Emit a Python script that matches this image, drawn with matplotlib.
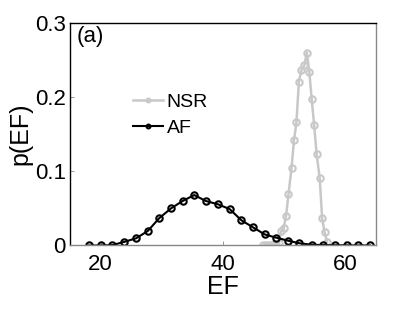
import matplotlib
matplotlib.use("Agg")
import matplotlib.pyplot as plt

plt.rcParams['font.family'] = ['Liberation Sans', 'DejaVu Sans']

# AF series
af_x = [18.1, 20.0, 21.9, 23.8, 25.8, 27.7, 29.6, 31.5, 33.4, 35.3, 37.2, 39.2,
        41.1, 43.0, 44.9, 46.8, 48.7, 50.6, 52.5, 54.5, 56.4, 58.3, 60.2, 62.1, 64.0]
af_y = [0.0, 0.0, 0.0005, 0.0047, 0.0097, 0.0195, 0.037, 0.050, 0.060, 0.068, 0.060, 0.0555,
        0.049, 0.034, 0.0245, 0.015, 0.0105, 0.0065, 0.003, 0.001, 0.0005, 0.0003, 0.0002, 0.0001, 0.0]

# NSR series
nsr_x = [46.6, 47.0, 47.4, 47.9, 48.3, 48.7, 49.1, 49.5, 49.9, 50.3, 50.7, 51.2, 51.6,
         52.0, 52.4, 52.8, 53.3, 53.7, 54.1, 54.5, 54.9, 55.3, 55.8, 56.2, 56.6, 57.0]
nsr_y = [0.0, 0.0005, 0.001, 0.001, 0.0015, 0.002, 0.004, 0.019, 0.023, 0.040, 0.069, 0.105, 0.142,
         0.166, 0.221, 0.236, 0.243, 0.260, 0.234, 0.197, 0.162, 0.123, 0.091, 0.037, 0.018, 0.005]

x_ticks = [20, 40, 60]
y_ticks = [0, 0.1, 0.2, 0.3]
y_ticklabels = ['0', '0.1', '0.2', '0.3']

fig = plt.figure(figsize=(4.15, 3.13), dpi=100)
ax = fig.add_axes([0.1687, 0.2157, 0.906 - 0.1687, 0.9265 - 0.2157])

gray = '#c8c8c8'
ax.plot(nsr_x, nsr_y, color=gray, lw=1.8, marker='o', ms=4.6, mew=1.5,
        mfc='none', mec=gray, label='NSR')
ax.plot(af_x, af_y, color='black', lw=1.5, marker='o', ms=4.6, mew=1.5,
        mfc='none', mec='black', label='AF')

ax.set_xlim(15, 65)
ax.set_ylim(0, 0.3)
ax.set_xticks(x_ticks)
ax.set_yticks(y_ticks)
ax.set_yticklabels(y_ticklabels)
ax.tick_params(direction='in', length=3, width=0.6, labelsize=16, color='#888888', pad=3)
ax.tick_params(axis='x', pad=6)

for s in ['left', 'top']:
    ax.spines[s].set_color('black')
    ax.spines[s].set_linewidth(1.0)
for s in ['right', 'bottom']:
    ax.spines[s].set_color('#888888')
    ax.spines[s].set_linewidth(1.0)

ax.set_xlabel('EF', fontsize=18, labelpad=0)
ax.set_ylabel('p(EF)', fontsize=18, labelpad=2)

ax.text(0.02, 0.985, '(a)', transform=ax.transAxes, fontsize=16, va='top', ha='left')

leg = ax.legend(loc='upper left', bbox_to_anchor=(0.205, 0.685), frameon=False,
                fontsize=14, handlelength=1.55, handletextpad=0.2, labelspacing=0.45,
                markerscale=0.6, borderaxespad=0, borderpad=0)

fig.savefig('out.png', dpi=100)
